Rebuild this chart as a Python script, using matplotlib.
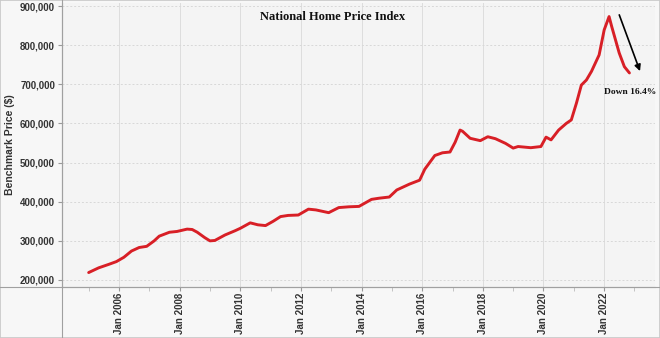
import matplotlib
matplotlib.use("Agg")
import matplotlib.pyplot as plt
from matplotlib.lines import Line2D
import pandas as pd

# ---- data ----
dates = ["2005-01", "2005-05", "2005-09", "2005-12", "2006-03", "2006-06", "2006-09", "2006-12",
         "2007-03", "2007-05", "2007-09", "2007-12", "2008-04", "2008-06", "2008-08", "2008-11",
         "2009-01", "2009-03", "2009-07", "2009-11", "2010-01", "2010-05", "2010-08", "2010-11",
         "2011-02", "2011-05", "2011-08", "2011-12", "2012-04", "2012-07", "2012-12", "2013-04",
         "2013-08", "2013-12", "2014-05", "2014-08", "2014-12", "2015-03", "2015-08", "2015-12",
         "2016-02", "2016-06", "2016-09", "2016-12", "2017-02", "2017-04", "2017-05", "2017-08",
         "2017-12", "2018-03", "2018-06", "2018-10", "2019-01", "2019-03", "2019-08", "2019-12",
         "2020-02", "2020-04", "2020-07", "2020-10", "2020-12", "2021-02", "2021-04", "2021-06",
         "2021-08", "2021-11", "2022-01", "2022-03", "2022-04", "2022-07", "2022-09", "2022-11"]
prices = [219000, 231000, 240000, 247000, 258000, 274000, 283000, 286000,
          300000, 312000, 322000, 324000, 330000, 329000, 322000, 308000,
          300000, 301000, 315000, 326000, 332000, 346000, 341000, 339000,
          350000, 362000, 365000, 366000, 381000, 379000, 372000, 385000,
          387000, 388000, 406000, 409000, 412000, 430000, 445000, 455000,
          483000, 518000, 525000, 527000, 552000, 583000, 580000, 562000,
          556000, 566000, 561000, 549000, 537000, 541000, 538000, 541000,
          565000, 558000, 583000, 600000, 609000, 652000, 698000, 711000,
          733000, 775000, 839000, 873000, 848000, 780000, 745000, 729000]
y_ticks = [200000, 300000, 400000, 500000, 600000, 700000, 800000, 900000]
x_tick_years = [2006, 2008, 2010, 2012, 2014, 2016, 2018, 2020, 2022]
title_text = "National Home Price Index"
note_text = "Down 16.4%"
ylabel_text = "Benchmark Price ($)"

x = pd.to_datetime(dates)

W, H = 660, 338
fig = plt.figure(figsize=(W / 100, H / 100), dpi=100, facecolor="#f7f7f7")
L, R, T, B = 62, 655, 3, 287
ax = fig.add_axes([L / W, 1 - B / H, (R - L) / W, (B - T) / H])
ax.set_facecolor("#f4f4f4")

ax.plot(x, prices, color="#d81f26", lw=2.1, solid_joinstyle="round", solid_capstyle="round", zorder=3)

ax.set_ylim(182100, 907700)
ax.set_xlim(pd.Timestamp("2004-02-15"), pd.Timestamp("2023-09-05"))

ax.set_yticks(y_ticks)
ax.set_yticklabels([f"{v:,}" for v in y_ticks])
ax.set_xticks([pd.Timestamp(f"{yr}-01-01") for yr in x_tick_years])
ax.set_xticklabels([f"Jan {yr}" for yr in x_tick_years], rotation=90)
ax.set_xticks([pd.Timestamp(f"{yr}-01-01") for yr in range(2005, 2024, 2)], minor=True)

for lab in ax.get_yticklabels() + ax.get_xticklabels():
    lab.set_fontweight("bold")
    lab.set_fontsize(7)
    lab.set_color("#333333")
    lab.set_family("Liberation Sans")

ax.tick_params(axis="y", length=3, color="#999999", pad=2)
ax.tick_params(axis="x", which="major", length=3, color="#999999", pad=1)
ax.tick_params(axis="x", which="minor", length=3, color="#bbbbbb")

ax.grid(axis="y", color="#d8d8d8", lw=0.7, ls=(0, (2, 2)))
ax.grid(axis="x", which="major", color="#dddddd", lw=0.7)

for s in ["top", "right"]:
    ax.spines[s].set_visible(False)
for s in ["left", "bottom"]:
    ax.spines[s].set_color("#a0a0a0")
    ax.spines[s].set_linewidth(0.8)

# extended frame lines (table-like layout)
fig.add_artist(Line2D([L / W, L / W], [0, 1], transform=fig.transFigure, color="#a0a0a0", lw=0.8))
fig.add_artist(Line2D([0, 1], [1 - B / H, 1 - B / H], transform=fig.transFigure, color="#a0a0a0", lw=0.8))
fig.add_artist(plt.Rectangle((0, 0), 1, 1, transform=fig.transFigure, fill=False,
                             edgecolor="#c8c8c8", lw=1.2))

fig.text(10 / W, 1 - 145 / H, ylabel_text, rotation=90, ha="center", va="center",
         fontsize=7.5, fontweight="bold", color="#333333", family="Liberation Sans")
fig.text(333 / W, 1 - 17 / H, title_text, ha="center", va="center",
         fontsize=9, fontweight="bold", color="#111111", family="Liberation Serif")

ax.annotate("", xy=(pd.Timestamp("2023-03-20"), 727000), xytext=(pd.Timestamp("2022-06-20"), 884000),
            arrowprops=dict(arrowstyle="-|>", color="black", lw=1.2, mutation_scale=9))
ax.text(pd.Timestamp("2022-11-10"), 680000, note_text, ha="center", va="center",
        fontsize=6.8, fontweight="bold", color="#111111", family="Liberation Serif")

fig.savefig("out.png", dpi=100, facecolor=fig.get_facecolor())
